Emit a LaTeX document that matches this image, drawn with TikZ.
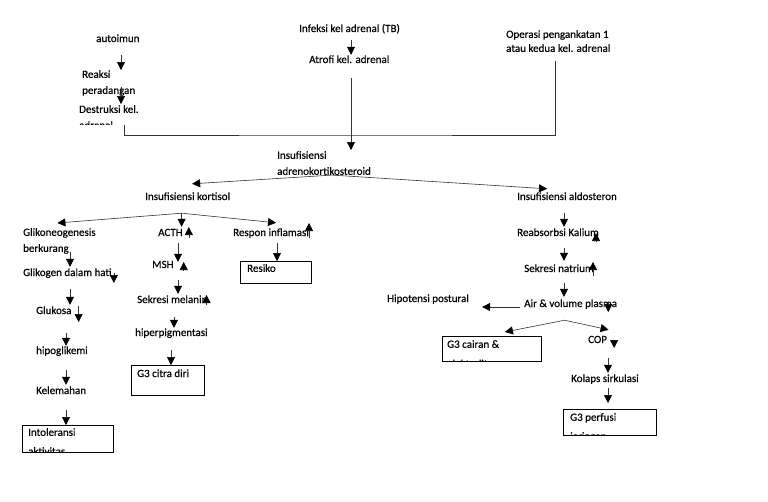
\documentclass[tikz,border=0pt]{standalone}
\usepackage{fontspec}
\setmainfont{Carlito}[FakeBold=0.4]
\usetikzlibrary{arrows.meta,calc}

\begin{document}
\begin{tikzpicture}[x=1pt,y=-1pt,
  font=\fontsize{11}{16}\selectfont,
  txt/.style={anchor=base west,inner sep=0pt,text height=8pt,text depth=3pt},
  txtml/.style={anchor=north west,inner sep=0pt,align=left},
  box/.style={draw,line width=0.8pt,anchor=north west,inner sep=0pt},
  line/.style={draw=black!80,line width=0.6pt},
  arr/.style={line,-{Triangle[width=8pt,length=8pt,color=black]}}]
\useasboundingbox (0,0) rectangle (768,501);

% penyebab
\node[txt] (autoimun) at (96,42) {autoimun};
\node[txtml] (reaksi) at (82,70) {Reaksi\\peradangan};
\begin{scope}
\clip (70,100) rectangle (170,124.5);
\node[txtml] (destruksi) at (79,105) {Destruksi kel.\\adrenal};
\end{scope}
\node[txt] (infeksi) at (299,32) {Infeksi kel adrenal (TB)};
\node[txt] (atrofi) at (309,63) {Atrofi kel. adrenal};
\node[txtml] (operasi) at (506,30) {Operasi pengankatan 1\\[-2pt]atau kedua kel. adrenal};
\node[txtml] (insufad) at (277,151) {Insufisiensi\\adrenokortikosteroid};
\node[txt] (kortisol) at (145,200) {Insufisiensi kortisol};
\node[txt] (aldosteron) at (517,200) {Insufisiensi aldosteron};

% kortisol
\node[txtml] (glikoneo) at (23,228) {Glikoneogenesis\\berkurang};
\node[txt] (glikogen) at (23,276) {Glikogen dalam hati};
\node[txt] (glukosa) at (36,314) {Glukosa};
\node[txt] (hipogli) at (36,354) {hipoglikemi};
\node[txt] (kelemahan) at (36,394) {Kelemahan};
\node[box,minimum width=91pt,minimum height=27pt] (intol) at (22,425) {};
\begin{scope}
\clip ($(intol.south west)+(0,-0.5)$) rectangle (intol.north east);
\node[txtml] (intoltxt) at (28,428) {Intoleransi\\[3pt]aktivitas};
\end{scope}
\node[txt] (acth) at (158,236) {ACTH};
\node[txt] (msh) at (152,268) {MSH};
\node[txt] (melanin) at (137,303) {Sekresi melanin};
\node[txt] (hiperpig) at (135,336) {hiperpigmentasi};
\node[box,minimum width=73pt,minimum height=30pt] (citra) at (131,365) {};
\node[txt] (citratxt) at (137,377) {G3 citra diri};
\node[txt] (respon) at (233,236) {Respon inflamasi};
\node[box,minimum width=71pt,minimum height=22pt] (resiko) at (240,261) {};
\begin{scope}
\clip ($(resiko.south west)+(0,-0.5)$) rectangle (resiko.north east);
\node[txtml] (resikotxt) at (247,264) {Resiko\\[3.5pt]infeksi};
\end{scope}

% aldosteron
\node[txt] (reabsorbsi) at (517,236) {Reabsorbsi Kalium};
\node[txt] (natrium) at (524,272) {Sekresi natrium};
\node[txt] (plasma) at (524,307) {Air \& volume plasma};
\node[txt] (hipotensi) at (387,302) {Hipotensi postural};
\node[box,minimum width=99pt,minimum height=25pt] (cairan) at (442,336) {};
\begin{scope}
\clip ($(cairan.south west)+(0,-0.5)$) rectangle (cairan.north east);
\node[txtml] (cairantxt) at (447,340) {G3 cairan \&\\[3.5pt]elektrolit};
\end{scope}
\node[txt] (cop) at (588,343) {COP};
\node[txt] (kolaps) at (571,382) {Kolaps sirkulasi};
\node[box,minimum width=93pt,minimum height=26pt] (perfusi) at (563,409) {};
\begin{scope}
\clip ($(perfusi.south west)+(0,-0.5)$) rectangle (perfusi.north east);
\node[txtml] (perfusitxt) at (570,413) {G3 perfusi\\[3pt]jaringan};
\end{scope}

% panah
\coordinate (junc) at (351,135);
\draw[arr,shorten <=10pt] (autoimun.south -| 121,0) -- (reaksi.north -| 121,0);
\draw[arr,shorten <=-9pt,shorten >=1pt] (reaksi.south -| 121,0) -- (destruksi.north -| 121,0);
\draw[arr,shorten <=5pt] (infeksi.south -| 351,0) -- (atrofi.north -| 351,0);
\draw[line,shorten <=-4pt,shorten >=9pt] (destruksi.south -| 124,0) |- (junc) -| (operasi.south -| 555,0);
\draw[line,shorten <=12pt] (atrofi.south -| 351,0) -- (junc);
\draw[arr,shorten >=1pt] (junc) -- (insufad.north -| 351,0);
\draw[arr] ($(insufad.south)+(8,0)$) -- ($(kortisol.north)+(4.5,-8)$);
\draw[arr] ($(insufad.south)+(8,0)$) -- ($(aldosteron.north)+(-20,-3)$);

\coordinate (kbranch) at ($(kortisol.south)+(-6,10)$);
\draw[arr] (kbranch) -- ($(glikoneo.north)+(-2,-5)$);
\draw[arr,shorten >=1pt] (kbranch) -- (acth.north -| kbranch);
\draw[arr] (kbranch) -- ($(respon.north)+(5,-5)$);
\draw[arr,shorten <=-2pt,shorten >=1pt] (glikoneo.south -| 70,0) -- (glikogen.north -| 70,0);
\draw[arr,shorten <=10pt,shorten >=1pt] (glikogen.south -| 70,0) -- (glukosa.north -| 70,0);
\draw[arr,shorten <=16pt] (glukosa.south -| 66,0) -- (hipogli.north -| 66,0);
\draw[arr,shorten <=13pt,shorten >=1pt] (hipogli.south -| 66,0) -- (kelemahan.north -| 66,0);
\draw[arr,shorten <=13pt] (kelemahan.south -| 66,0) -- (intol.north -| 66,0);
\draw[arr,shorten <=4pt,shorten >=-2pt] (acth.south -| 178,0) -- (msh.north -| 178,0);
\draw[arr,shorten <=9pt,shorten >=1pt] (msh.south -| 178,0) -- (melanin.north -| 178,0);
\draw[arr,shorten <=11pt] (melanin.south -| 174,0) -- (hiperpig.north -| 174,0);
\draw[arr,shorten <=11pt] (hiperpig.south -| 171,0) -- (citra.north -| 171,0);
\draw[arr,shorten <=4pt] (respon.south -| 277,0) -- (resiko.north -| 277,0);

\draw[arr,shorten <=10pt,shorten >=1pt] (aldosteron.south -| 564,0) -- (reabsorbsi.north -| 564,0);
\draw[arr,shorten <=9pt,shorten >=3pt] (reabsorbsi.south -| 564,0) -- (natrium.north -| 564,0);
\draw[arr,shorten <=8pt,shorten >=2pt] (natrium.south -| 564,0) -- (plasma.north -| 564,0);
\draw[arr] ($(plasma.base west)+(-4,0)$) -- ($(hipotensi.base east)+(13,5)$);
\coordinate (pbranch) at ($(plasma.south)+(-6,10)$);
\draw[arr] (pbranch) -- ($(cairan.north)+(13,-4)$);
\draw[arr] (pbranch) -- ($(cop.north)+(11,-5)$);
\draw[arr,shorten <=12pt,shorten >=1pt] (cop.south -| 608,0) -- (kolaps.north -| 608,0);
\draw[arr,shorten <=3pt,shorten >=6pt] (kolaps.south -| 608,0) -- (perfusi.north -| 608,0);

% naik / turun
\draw[arr] ($(acth.base east)+(6,2)$) -- ++(0,-11);
\draw[arr] ($(respon.base east)+(0,2)$) -- ++(0,-15);
\draw[arr] ($(glikogen.base east)+(2,-3)$) -- ++(0,10);
\draw[arr] ($(msh.base east)+(10,3)$) -- ++(0,-9);
\draw[arr] ($(melanin.base east)+(-1,2)$) -- ++(0,-10);
\draw[arr] ($(glukosa.base east)+(7,-8)$) -- ++(0,16);
\draw[arr] ($(reabsorbsi.base east)+(-3,6)$) -- ++(0,-9);
\draw[arr] ($(natrium.base east)+(-1,4)$) -- ++(0,-14);
\draw[arr] ($(plasma.base east)+(-9,-5)$) -- ++(0,10);
\draw[arr] ($(cop.base east)+(7,-3)$) -- ++(0,8);
\end{tikzpicture}
\end{document}
